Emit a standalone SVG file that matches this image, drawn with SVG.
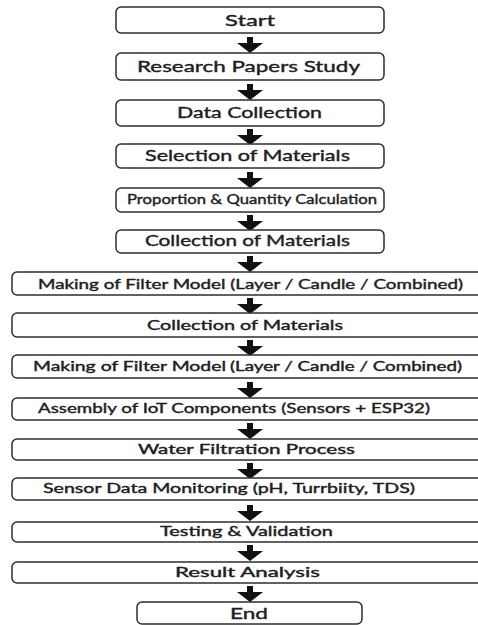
<svg xmlns="http://www.w3.org/2000/svg" width="478" height="625" viewBox="0 0 478 625">
<style>
.box{fill:#fff;stroke:#2e2e2e;stroke-width:1.5}
.t{font-family:Lato,"Open Sans","Liberation Sans",sans-serif;font-weight:normal;fill:#1e1e1e;stroke:#1e1e1e;stroke-width:0.4}
.l{font-size:16px}
.m{font-size:14px}
.s{font-size:13.5px}
.arr{stroke:#111;stroke-width:6;fill:none}
</style>
<defs>
<marker id="head" markerUnits="userSpaceOnUse" markerWidth="10" markerHeight="26" refX="0" refY="13" orient="auto" viewBox="0 0 10 26">
<path d="M0,0 L10,13 L0,26 Z" fill="#111"/>
</marker>
</defs>
<g id="connectors">
<path class="arr" marker-end="url(#head)" d="M250,37 V43"/>
<path class="arr" marker-end="url(#head)" d="M250,84 V90"/>
<path class="arr" marker-end="url(#head)" d="M250,129 V135"/>
<path class="arr" marker-end="url(#head)" d="M250,172 V178"/>
<path class="arr" marker-end="url(#head)" d="M250,215 V221"/>
<path class="arr" marker-end="url(#head)" d="M250,256 V262"/>
<path class="arr" marker-end="url(#head)" d="M250,298 V304"/>
<path class="arr" marker-end="url(#head)" d="M250,340 V346"/>
<path class="arr" marker-end="url(#head)" d="M250,382 V388"/>
<path class="arr" marker-end="url(#head)" d="M250,423 V429"/>
<path class="arr" marker-end="url(#head)" d="M250,463 V469"/>
<path class="arr" marker-end="url(#head)" d="M250,505 V511"/>
<path class="arr" marker-end="url(#head)" d="M250,545 V551"/>
<path class="arr" marker-end="url(#head)" d="M250,586 V592"/>
</g>
<g id="n1"><rect class="box" x="116" y="7" width="268" height="26" rx="5"/><text class="t l" x="225" y="26" textLength="50" lengthAdjust="spacingAndGlyphs">Start</text></g>
<g id="n2"><rect class="box" x="116" y="53" width="268" height="27" rx="5"/><text class="t l" x="137" y="72" textLength="223" lengthAdjust="spacingAndGlyphs">Research Papers Study</text></g>
<g id="n3"><rect class="box" x="116" y="100" width="268" height="26" rx="5"/><text class="t l" x="177" y="118" textLength="145" lengthAdjust="spacingAndGlyphs">Data Collection</text></g>
<g id="n4"><rect class="box" x="116" y="144" width="268" height="24" rx="5"/><text class="t l" x="145" y="161" textLength="205" lengthAdjust="spacingAndGlyphs">Selection of Materials</text></g>
<g id="n5"><rect class="box" x="116" y="188" width="268" height="24" rx="5"/><text class="t m" x="127" y="204" textLength="250" lengthAdjust="spacingAndGlyphs">Proportion &amp; Quantity Calculation</text></g>
<g id="n6"><rect class="box" x="116" y="230" width="268" height="23" rx="5"/><text class="t l" x="145" y="246" textLength="205" lengthAdjust="spacingAndGlyphs">Collection of Materials</text></g>
<g id="n7"><rect class="box" x="12" y="272" width="480" height="23" rx="5"/><text class="t s" x="38" y="289" textLength="425" lengthAdjust="spacingAndGlyphs">Making of Filter Model (Layer / Candle / Combined)</text></g>
<g id="n8"><rect class="box" x="12" y="313" width="480" height="24" rx="5"/><text class="t s" x="147" y="330" textLength="196" lengthAdjust="spacingAndGlyphs">Collection of Materials</text></g>
<g id="n9"><rect class="box" x="12" y="355" width="480" height="23" rx="5"/><text class="t s" x="33" y="371"><tspan textLength="193" lengthAdjust="spacingAndGlyphs">Making of Filter Model</tspan><tspan x="230" font-size="12.5" textLength="232" lengthAdjust="spacingAndGlyphs">(Layer / Candle / Combined)</tspan></text></g>
<g id="n10"><rect class="box" x="12" y="398" width="480" height="22" rx="5"/><text class="t s" x="38" y="413" textLength="392" lengthAdjust="spacingAndGlyphs">Assembly of IoT Components (Sensors + ESP32)</text></g>
<g id="n11"><rect class="box" x="12" y="439" width="480" height="21" rx="5"/><text class="t s" x="138" y="454" textLength="217" lengthAdjust="spacingAndGlyphs">Water Filtration Process</text></g>
<g id="n12"><rect class="box" x="12" y="478" width="480" height="22" rx="5"/><text class="t s" x="43" y="493" textLength="372" lengthAdjust="spacingAndGlyphs">Sensor Data Monitoring (pH, Turrbiity, TDS)</text></g>
<g id="n13"><rect class="box" x="12" y="522" width="480" height="20" rx="5"/><text class="t s" x="160" y="536" textLength="173" lengthAdjust="spacingAndGlyphs">Testing &amp; Validation</text></g>
<g id="n14"><rect class="box" x="12" y="562" width="480" height="21" rx="5"/><text class="t s" x="175" y="577" textLength="145" lengthAdjust="spacingAndGlyphs">Result Analysis</text></g>
<g id="n15"><rect class="box" x="137" y="602" width="225" height="22" rx="5"/><text class="t l" x="230" y="619" textLength="38" lengthAdjust="spacingAndGlyphs">End</text></g>
</svg>
